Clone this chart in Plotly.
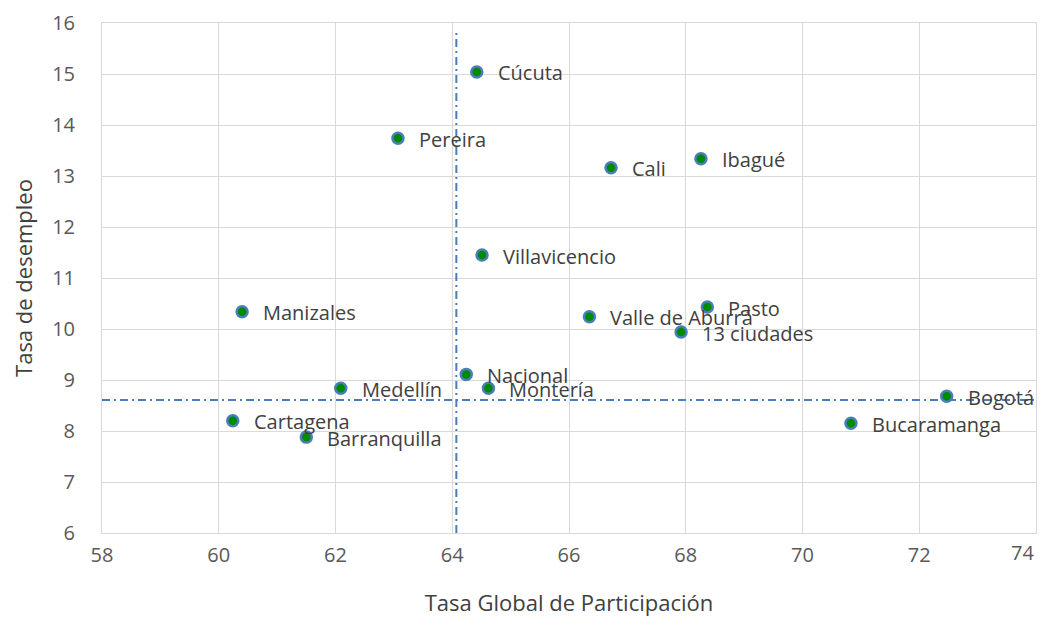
import plotly.graph_objects as go

# Tasa Global de Participación (x) vs Tasa de desempleo (y) por ciudad
ciudades = ["Cúcuta", "Pereira", "Cali", "Ibagué", "Villavicencio", "Manizales",
            "Valle de Aburrá", "Pasto", "13 ciudades", "Nacional", "Montería",
            "Medellín", "Cartagena", "Barranquilla", "Bogotá", "Bucaramanga"]
tgp = [64.42, 63.07, 66.72, 68.26, 64.51, 60.40,
       66.35, 68.37, 67.92, 64.24, 64.62,
       62.09, 60.24, 61.50, 72.47, 70.83]
td = [15.04, 13.74, 13.16, 13.34, 11.45, 10.34,
      10.24, 10.43, 9.94, 9.11, 8.84,
      8.84, 8.20, 7.88, 8.68, 8.15]

# ticks del eje x (el ultimo va alineado a la derecha, como en Excel)
x_ticks = [58, 60, 62, 64, 66, 68, 70, 72, 74]

# lineas de referencia (promedios)
ref_v_x = [64.07, 64.07]
ref_v_y = [6, 15.82]
ref_h_x = [58, 74]
ref_h_y = [8.61, 8.61]

FONT = "Open Sans"
LINE_COLOR = "#4a7ebb"
DASH = "8px,4px,2px,4px"

fig = go.Figure()

fig.add_trace(go.Scatter(x=ref_v_x, y=ref_v_y, mode="lines",
                         line=dict(color=LINE_COLOR, width=2, dash=DASH),
                         hoverinfo="skip"))
fig.add_trace(go.Scatter(x=ref_h_x, y=ref_h_y, mode="lines",
                         line=dict(color=LINE_COLOR, width=2, dash=DASH),
                         hoverinfo="skip"))

fig.add_trace(go.Scatter(
    x=tgp, y=td, mode="markers", text=ciudades,
    marker=dict(size=11, color="#008a00", line=dict(color="#4a7ebb", width=2.5)),
))

for name, xv, yv in zip(ciudades, tgp, td):
    fig.add_annotation(x=xv, y=yv, text=name, showarrow=False,
                       xanchor="left", yanchor="middle", xshift=19, yshift=-1,
                       font=dict(family=FONT, size=20, color="#404040"))

# etiqueta del ultimo tick, alineada al borde derecho
fig.add_annotation(x=x_ticks[-1], y=0, yref="paper", text=str(x_ticks[-1]),
                   showarrow=False, xanchor="right", yanchor="top", yshift=-4,
                   font=dict(family=FONT, size=20, color="#595959"))

# la pagina tiene un margen de 8px, por eso el tamaño es algo menor
fig.update_layout(
    width=1042, height=609,
    showlegend=False,
    margin=dict(l=94, r=14, t=15, b=84),
    paper_bgcolor="white",
    plot_bgcolor="white",
    font=dict(family=FONT, size=20, color="#595959"),
)

fig.update_xaxes(range=[58, 74], tickvals=x_ticks[:-1],
                 ticktext=[str(v) for v in x_ticks[:-1]], automargin=False,
                 showgrid=True, gridcolor="#d9d9d9", gridwidth=1,
                 showline=True, mirror=True, linecolor="#d9d9d9", linewidth=1,
                 zeroline=False, ticks="", ticklabelstandoff=4,
                 title=dict(text="Tasa Global de Participación", standoff=31,
                            font=dict(family=FONT, size=22, color="#404040")))
fig.update_yaxes(range=[6, 16], dtick=1, tick0=6, automargin=False,
                 showgrid=True, gridcolor="#d9d9d9", gridwidth=1,
                 showline=True, mirror=True, linecolor="#d9d9d9", linewidth=1,
                 zeroline=False, ticks="", ticklabelstandoff=22,
                 title=dict(text="Tasa de desempleo", standoff=18,
                            font=dict(family=FONT, size=22, color="#404040")))

fig.write_html("out.html")
